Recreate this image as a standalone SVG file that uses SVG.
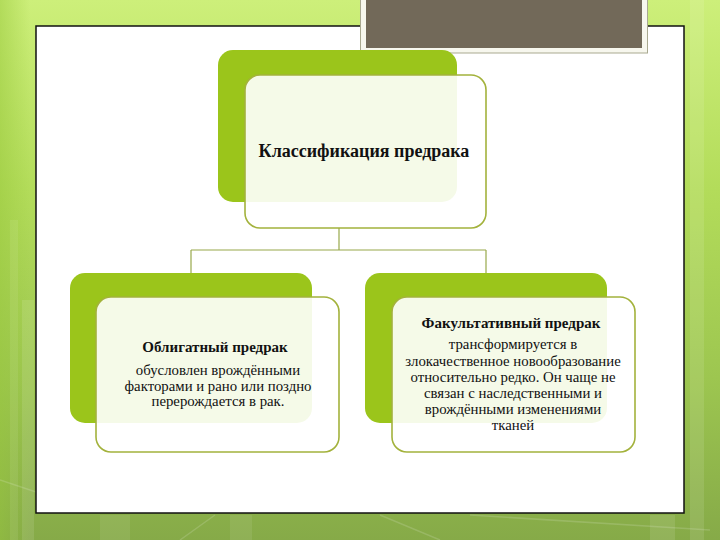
<svg xmlns="http://www.w3.org/2000/svg" width="720" height="540" viewBox="0 0 720 540">
<style>
.back{fill:#9bc51b}
.front{fill:#ffffff;fill-opacity:0.9;stroke:#a3b23c;stroke-width:1.6}
.conn{fill:none;stroke:#98a84a;stroke-width:1.2}
.stripe{fill:#ffffff}
</style>
<defs>
<linearGradient id="bg" x1="0" y1="0" x2="0" y2="1">
<stop offset="0" stop-color="#cdef7a"/>
<stop offset="0.35" stop-color="#b3dc5a"/>
<stop offset="0.7" stop-color="#9dc650"/>
<stop offset="1" stop-color="#86aa48"/>
</linearGradient>
<linearGradient id="side" x1="0" y1="0" x2="1" y2="0">
<stop offset="0" stop-color="#98c83c" stop-opacity="0.5"/>
<stop offset="1" stop-color="#98c83c" stop-opacity="0"/>
</linearGradient>
</defs>
<g id="background">
<rect x="0" y="0" width="720" height="540" fill="url(#bg)"/>
<rect x="0" y="0" width="30" height="540" fill="url(#side)"/>
<rect class="stripe" x="10" y="220" width="8" height="320" opacity="0.08"/>
<rect class="stripe" x="22" y="300" width="12" height="240" opacity="0.1"/>
<rect class="stripe" x="690" y="0" width="14" height="540" opacity="0.1"/>
<rect class="stripe" x="100" y="515" width="30" height="25" opacity="0.08"/>
<rect class="stripe" x="230" y="515" width="22" height="25" opacity="0.08"/>
<rect class="stripe" x="650" y="515" width="25" height="25" opacity="0.1"/>
<path d="M0 480 L60 500 M180 540 L215 515 M380 515 L440 540 M470 515 L710 530" stroke="#ffffff" stroke-opacity="0.15" stroke-width="1.5" fill="none"/>
</g>
<g id="frame">
<rect x="36" y="26" width="648" height="487" fill="#ffffff" stroke="#111111" stroke-width="1.5"/>
</g>
<g id="title-bar">
<rect x="360.5" y="-2" width="287" height="55" fill="#f7f7ee" stroke="#a9a990" stroke-width="1"/>
<rect x="366" y="0" width="276" height="48" fill="#726959"/>
</g>
<g id="connectors">
<path class="conn" d="M339 228 V250"/>
<path class="conn" d="M191 250 H486"/>
<path class="conn" d="M191 250 V273"/>
<path class="conn" d="M486 250 V273"/>
</g>
<g id="node-root">
<rect class="back" x="218" y="50" width="239" height="152" rx="15"/>
<rect class="front" x="245" y="75" width="241" height="153" rx="15"/>
<text x="364" y="157" font-family="Liberation Serif" font-size="18" font-weight="bold" text-anchor="middle" fill="#111">Классификация предрака</text>
</g>
<g id="node-obligate">
<rect class="back" x="70" y="273" width="242" height="150" rx="15"/>
<rect class="front" x="96" y="297" width="243" height="155" rx="15"/>
<text x="215" y="352" font-family="Liberation Serif" font-size="15" font-weight="bold" text-anchor="middle" fill="#111">Облигатный предрак</text>
<text x="218" y="375" font-family="Liberation Serif" font-size="14.8" text-anchor="middle" fill="#111">обусловлен врождёнными</text>
<text x="218" y="391" font-family="Liberation Serif" font-size="14.8" text-anchor="middle" fill="#111">факторами и рано или поздно</text>
<text x="218" y="406" font-family="Liberation Serif" font-size="14.8" text-anchor="middle" fill="#111">перерождается в рак.</text>
</g>
<g id="node-facultative">
<rect class="back" x="365" y="273" width="242" height="150" rx="15"/>
<rect class="front" x="392" y="297" width="243" height="155" rx="15"/>
<text x="511" y="328" font-family="Liberation Serif" font-size="15" font-weight="bold" text-anchor="middle" fill="#111">Факультативный предрак</text>
<text x="513" y="349" font-family="Liberation Serif" font-size="14.8" text-anchor="middle" fill="#111">трансформируется в</text>
<text x="513" y="366" font-family="Liberation Serif" font-size="14.8" text-anchor="middle" fill="#111">злокачественное новообразование</text>
<text x="513" y="382" font-family="Liberation Serif" font-size="14.8" text-anchor="middle" fill="#111">относительно редко. Он чаще не</text>
<text x="513" y="398" font-family="Liberation Serif" font-size="14.8" text-anchor="middle" fill="#111">связан с наследственными и</text>
<text x="513" y="414" font-family="Liberation Serif" font-size="14.8" text-anchor="middle" fill="#111">врождёнными изменениями</text>
<text x="513" y="430" font-family="Liberation Serif" font-size="14.8" text-anchor="middle" fill="#111">тканей</text>
</g>
</svg>
